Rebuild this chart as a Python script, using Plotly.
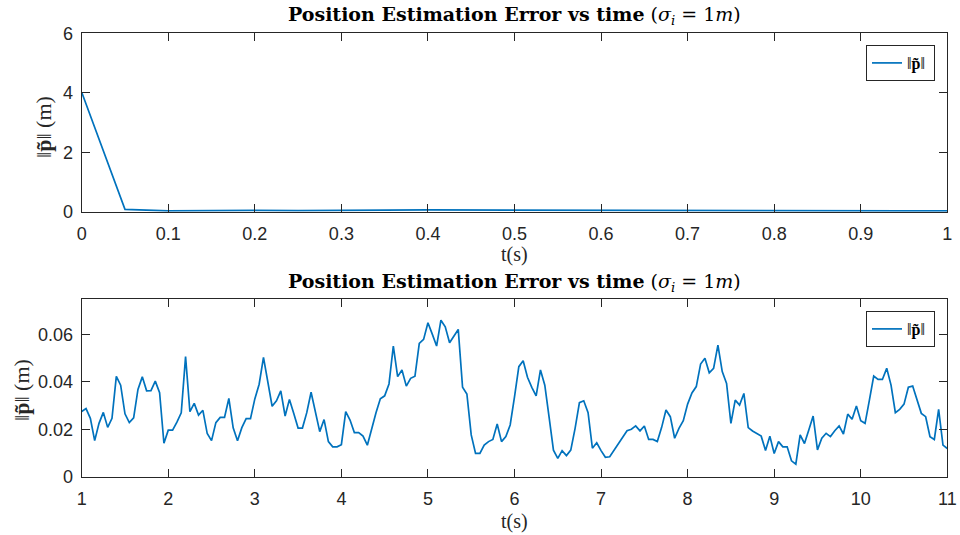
import numpy as np
import plotly.graph_objects as go

# Position estimation error norm ||p~|| (m), sampled every 0.05 s
err_start = [4.02, 0.08, 0.03, 0.05, 0.045, 0.035, 0.03, 0.05, 0.06, 0.055,
             0.05, 0.045, 0.04, 0.035, 0.03, 0.04, 0.035, 0.03, 0.028, 0.03]

err_main = [
    0.0275, 0.0287, 0.0246, 0.0152, 0.0225, 0.0271, 0.0208, 0.0246, 0.0423, 0.0386,
    0.0265, 0.0228, 0.0248, 0.0368, 0.0421, 0.0362, 0.0363, 0.0403, 0.0354, 0.0141,
    0.0196, 0.0196, 0.0230, 0.0269, 0.0506, 0.0274, 0.0309, 0.0260, 0.0280, 0.0182,
    0.0152, 0.0228, 0.0250, 0.0250, 0.0330, 0.0206, 0.0152, 0.0207, 0.0245, 0.0245,
    0.0328, 0.0390, 0.0503, 0.0408, 0.0297, 0.0320, 0.0362, 0.0256, 0.0326, 0.0267,
    0.0205, 0.0205, 0.0270, 0.0356, 0.0270, 0.0190, 0.0241, 0.0148, 0.0126, 0.0126,
    0.0135, 0.0274, 0.0239, 0.0186, 0.0186, 0.0171, 0.0133, 0.0208, 0.0270, 0.0329,
    0.0341, 0.0391, 0.0551, 0.0422, 0.0450, 0.0382, 0.0415, 0.0424, 0.0562, 0.0579,
    0.0649, 0.0601, 0.0551, 0.0660, 0.0632, 0.0565, 0.0593, 0.0621, 0.0377, 0.0349,
    0.0176, 0.0098, 0.0098, 0.0133, 0.0148, 0.0157, 0.0222, 0.0148, 0.0169, 0.0218,
    0.0337, 0.0464, 0.0489, 0.0419, 0.0377, 0.0341, 0.0450, 0.0386, 0.0250, 0.0112,
    0.0077, 0.0110, 0.0089, 0.0112, 0.0204, 0.0312, 0.0320, 0.0270, 0.0120, 0.0143,
    0.0110, 0.0082, 0.0084, 0.0112, 0.0138, 0.0166, 0.0194, 0.0200, 0.0214, 0.0193,
    0.0214, 0.0157, 0.0157, 0.0148, 0.0208, 0.0281, 0.0253, 0.0162, 0.0204, 0.0236,
    0.0306, 0.0353, 0.0380, 0.0475, 0.0499, 0.0438, 0.0457, 0.0555, 0.0443, 0.0393,
    0.0225, 0.0323, 0.0302, 0.0351, 0.0207, 0.0193, 0.0183, 0.0171, 0.0110, 0.0171,
    0.0098, 0.0148, 0.0126, 0.0126, 0.0067, 0.0053, 0.0176, 0.0140, 0.0197, 0.0256,
    0.0113, 0.0162, 0.0183, 0.0169, 0.0194, 0.0214, 0.0180, 0.0264, 0.0242, 0.0298,
    0.0236, 0.0225, 0.0323, 0.0424, 0.0410, 0.0410, 0.0457, 0.0386, 0.0270, 0.0284,
    0.0306, 0.0377, 0.0382, 0.0323, 0.0267, 0.0253, 0.0169, 0.0157, 0.0284, 0.0133,
    0.0119,
]

err = err_start + err_main
dt = 0.05
t = np.round(np.arange(len(err)) * dt, 2)
err = np.array(err)

x1_ticks = [0, 0.1, 0.2, 0.3, 0.4, 0.5, 0.6, 0.7, 0.8, 0.9, 1]
x1_labels = ["0", "0.1", "0.2", "0.3", "0.4", "0.5", "0.6", "0.7", "0.8", "0.9", "1"]
y1_ticks = [0, 2, 4, 6]
x2_ticks = [1, 2, 3, 4, 5, 6, 7, 8, 9, 10, 11]
y2_ticks = [0, 0.02, 0.04, 0.06]
y2_labels = ["0", "0.02", "0.04", "0.06"]

title_text = "<b>Position Estimation Error vs time</b> (<i>σ<sub>i</sub></i> = 1<i>m</i>)"
ylabel_text = "‖<b>p̃</b>‖ (m)"
legend_text = "‖<b>p̃</b>‖ "
xlabel_text = "t(s)"

LINE = "#0072BD"
AX = "#262626"
W, H = 960, 535
SERIF = "DejaVu Serif"
SERIF2 = "Liberation Serif"
SANS = "Liberation Sans"

# axes box in pixels
L, R = 81.7, 947.3
top1, bot1 = 33.3, 211.7
top2, bot2 = 299.3, 476.7


def py(p):
    return 1 - p / H


fig = go.Figure()
m1 = t <= 1.0 + 1e-9
m2 = t >= 1.0 - 1e-9
fig.add_trace(go.Scatter(x=t[m1], y=err[m1], mode="lines", name=legend_text,
                         line=dict(color=LINE, width=1.7), xaxis="x", yaxis="y",
                         legend="legend"))
fig.add_trace(go.Scatter(x=t[m2], y=err[m2], mode="lines", name=legend_text,
                         line=dict(color=LINE, width=1.7), xaxis="x2", yaxis="y2",
                         legend="legend2"))

axis_common = dict(ticks="inside", ticklen=8, tickwidth=1, tickcolor=AX,
                   showline=True, linecolor=AX, linewidth=1, mirror="allticks",
                   showgrid=False, zeroline=False, automargin=False,
                   tickfont=dict(family=SANS, size=18, color=AX))

legend_common = dict(xanchor="right", yanchor="top", bordercolor=AX, borderwidth=1,
                     bgcolor="white", font=dict(family=SERIF2, size=16, color="#000"),
                     itemwidth=30, tracegroupgap=0)

fig.update_layout(
    width=W, height=H,
    margin=dict(l=0, r=0, t=0, b=0, autoexpand=False),
    paper_bgcolor="white", plot_bgcolor="white",
    xaxis=dict(domain=[L / W, R / W], range=[0, 1], tickvals=x1_ticks,
               ticktext=x1_labels, anchor="y", ticklabelstandoff=6, **axis_common),
    yaxis=dict(domain=[py(bot1), py(top1)], range=[0, 6], tickvals=y1_ticks,
               anchor="x", ticklabelstandoff=4, **axis_common),
    xaxis2=dict(domain=[L / W, R / W], range=[1, 11], tickvals=x2_ticks,
                anchor="y2", ticklabelstandoff=6, **axis_common),
    yaxis2=dict(domain=[py(bot2), py(top2)], range=[0, 0.0748], tickvals=y2_ticks,
                ticktext=y2_labels, anchor="x2", ticklabelstandoff=4, **axis_common),
    legend=dict(x=935 / W, y=py(45), **legend_common),
    legend2=dict(x=935 / W, y=py(311), **legend_common),
    showlegend=True,
)

ann = []
for ytitle, yx, yl_x, yl_y in [(15, 255, 44, 127), (282, 521, 21, 390)]:
    ann.append(dict(text=title_text, x=(L + R) / 2 / W, y=py(ytitle), xref="paper",
                    yref="paper", xanchor="center", yanchor="middle", showarrow=False,
                    font=dict(family=SERIF, size=19, color="#000")))
    ann.append(dict(text=xlabel_text, x=(L + R) / 2 / W, y=py(yx), xref="paper",
                    yref="paper", xanchor="center", yanchor="middle", showarrow=False,
                    font=dict(family=SERIF2, size=20, color=AX)))
    ann.append(dict(text=ylabel_text, x=yl_x / W, y=py(yl_y), xref="paper",
                    yref="paper", xanchor="center", yanchor="middle", showarrow=False,
                    textangle=-90, font=dict(family=SERIF2, size=22, color=AX)))
fig.update_layout(annotations=ann)

fig.write_html("out.html")
